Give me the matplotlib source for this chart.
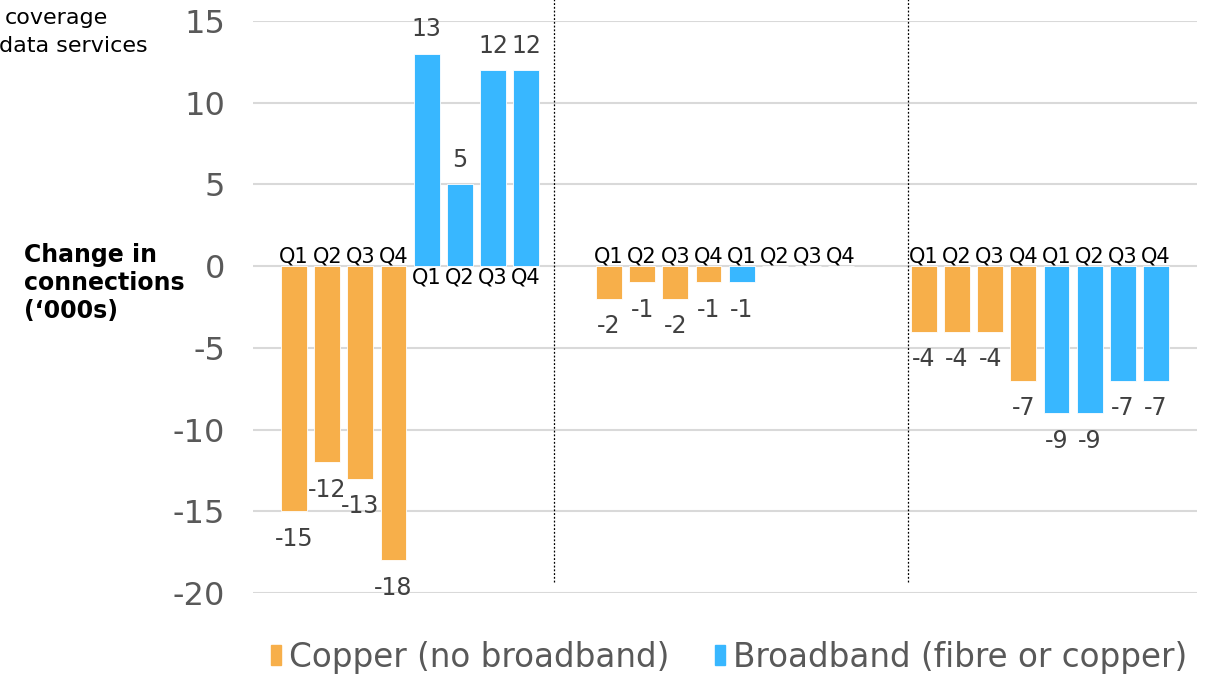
import matplotlib.pyplot as plt
from matplotlib.patches import Patch

plt.rcParams["axes.unicode_minus"] = False

# data
quarters = ["Q1", "Q2", "Q3", "Q4"]
copper = [-15, -12, -13, -18, -2, -1, -2, -1, -4, -4, -4, -7]
broadband = [13, 5, 12, 12, -1, 0, 0, 0, -9, -9, -7, -7]
group_start = [0, 9.5, 19]
divider_x = [7.84, 18.52]
yticks = [-20, -15, -10, -5, 0, 5, 10, 15]

orange = "#F7AF4A"
blue = "#38B7FF"

fig = plt.figure(figsize=(12.05, 6.75), dpi=100)
ax = fig.add_axes([253 / 1205, 1 - 593 / 675, (1197 - 253) / 1205, 572 / 675])

xs, vals, cols, labs = [], [], [], []
for g, start in enumerate(group_start):
    for i in range(4):
        xs.append(start + i)
        vals.append(copper[g * 4 + i])
        cols.append(orange)
        labs.append(quarters[i])
    for i in range(4):
        xs.append(start + 4 + i)
        vals.append(broadband[g * 4 + i])
        cols.append(blue)
        labs.append(quarters[i])

ax.bar(xs, vals, width=0.78, color=cols, edgecolor="white", linewidth=0.6, zorder=2)

for x, v, q in zip(xs, vals, labs):
    # quarter label sits on the zero line, opposite side of the bar
    if v > 0:
        ax.annotate(q, (x, 0), xytext=(0, -1), textcoords="offset points",
                    ha="center", va="top", fontsize=15, color="black")
        ax.annotate(str(v), (x, v), xytext=(0, 9), textcoords="offset points",
                    ha="center", va="bottom", fontsize=17, color="#404040")
    else:
        ax.annotate(q, (x, 0), xytext=(0, 0), textcoords="offset points",
                    ha="center", va="bottom", fontsize=15, color="black")
        if v < 0:
            ax.annotate(str(v), (x, v), xytext=(0, -11), textcoords="offset points",
                        ha="center", va="top", fontsize=17, color="#404040")

for dx in divider_x:
    ax.plot([dx, dx], [-19.35, 16.4], color="black", lw=0.9, ls=(0, (1.5, 1.5)),
            clip_on=False, zorder=3)

ax.set_xlim(-1.24, 27.24)
ax.set_ylim(-20, 15)
ax.set_yticks(yticks)
ax.set_xticks([])
ax.yaxis.grid(True, color="#d9d9d9", lw=1.5)
ax.set_axisbelow(True)
for s in ax.spines.values():
    s.set_visible(False)
ax.tick_params(axis="y", length=0, pad=20, labelsize=23, labelcolor="#595959")

fig.text(24 / 1205, 1 - 283 / 675, "Change in\nconnections\n(\u2018000s)", ha="left", va="center",
         fontsize=17, fontweight="bold", color="black", linespacing=1.2)
fig.text(5 / 1205, 1 - 18 / 675, "coverage", ha="left", va="center", fontsize=16, color="black")
fig.text(-1 / 1205, 1 - 46 / 675, "data services", ha="left", va="center", fontsize=16, color="black")

handles = [Patch(color=orange), Patch(color=blue)]
leg = fig.legend(handles, ["Copper (no broadband)", "Broadband (fibre or copper)"],
                 loc="center", bbox_to_anchor=(729 / 1205, 1 - 657 / 675), ncol=2,
                 frameon=False, fontsize=23.5, handlelength=0.3, handleheight=0.58,
                 handletextpad=0.25, columnspacing=1.4)
for t in leg.get_texts():
    t.set_color("#595959")

fig.savefig("out.png", dpi=100)
